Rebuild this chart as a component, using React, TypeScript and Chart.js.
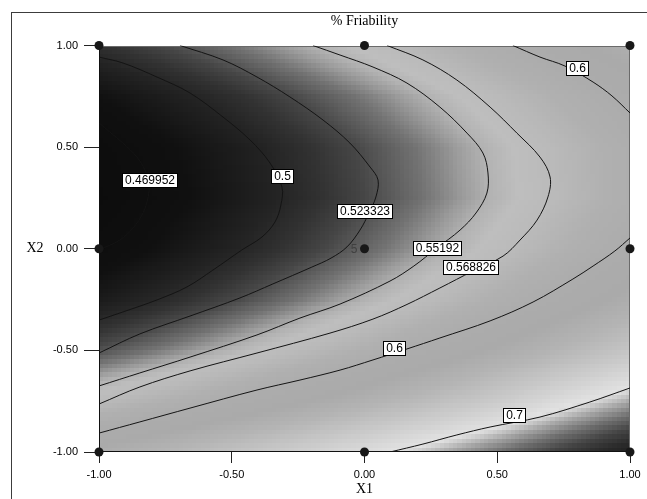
import React, { useEffect, useRef } from 'react';
import { Chart, registerables } from 'chart.js';

Chart.register(...registerables);

// ---------- axes ----------
const X1_TICKS = [-1, -0.5, 0, 0.5, 1];
const X1_TICK_LABELS = ['-1.00', '-0.50', '0.00', '0.50', '1.00'];
const X2_TICKS = [-1, -0.5, 0, 0.5, 1];
const X2_TICK_LABELS = ['-1.00', '-0.50', '0.00', '0.50', '1.00'];
const TITLE = '% Friability';
const X1_TITLE = 'X1';
const X2_TITLE = 'X2';

// ---------- response surface grid (% friability), read from the shading/contours ----------
const GRID_X1 = [-1, -0.75, -0.5, -0.25, 0, 0.25, 0.5, 0.75, 1];
const GRID_X2 = [1, 0.75, 0.5, 0.25, 0, -0.25, -0.5, -0.75, -1];
const F_X2_P100 = [0.509, 0.5215, 0.5348, 0.549, 0.5638, 0.5794, 0.5959, 0.6131, 0.631];
const F_X2_P075 = [0.4807, 0.4936, 0.5072, 0.5217, 0.5369, 0.5529, 0.5697, 0.5872, 0.6055];
const F_X2_P050 = [0.4648, 0.478, 0.4921, 0.5069, 0.5224, 0.5387, 0.5558, 0.5738, 0.5924];
const F_X2_P025 = [0.4611, 0.4746, 0.489, 0.5041, 0.52, 0.5367, 0.5541, 0.5724, 0.5913];
const F_X2_000 = [0.4697, 0.4836, 0.4983, 0.5138, 0.53, 0.547, 0.5648, 0.5834, 0.6027];
const F_X2_M025 = [0.4905, 0.5048, 0.5198, 0.5357, 0.5522, 0.5695, 0.5877, 0.6066, 0.6263];
const F_X2_M050 = [0.5236, 0.5382, 0.5535, 0.5697, 0.5866, 0.6043, 0.6228, 0.642, 0.662];
const F_X2_M075 = [0.5689, 0.5838, 0.5996, 0.6161, 0.6333, 0.6513, 0.6701, 0.6925, 0.714];
const F_X2_M100 = [0.6265, 0.6418, 0.6579, 0.6747, 0.6923, 0.7107, 0.7298, 0.7498, 0.7705];

// ---------- design points ----------
const DESIGN_X1 = [-1, 0, 1, -1, 0, 1, -1, 0, 1];
const DESIGN_X2 = [1, 1, 1, 0, 0, 0, -1, -1, -1];
const CENTER_REPLICATES = '5';

// ---------- contour lines ----------
const C_0469952_X1 = [-1.0, -0.959, -0.91, -0.857, -0.827, -0.812, -0.815, -0.834, -0.872, -0.921, -1.0];
const C_0469952_X2 = [0.619, 0.574, 0.52, 0.451, 0.387, 0.323, 0.255, 0.176, 0.102, 0.043, -0.006];

const C_05_X1 = [-1.0, -0.91, -0.782, -0.657, -0.533, -0.431, -0.356, -0.311, -0.315, -0.337, -0.386, -0.462, -0.571, -0.669, -0.782, -0.91, -1.0];
const C_05_X2 = [0.943, 0.914, 0.845, 0.766, 0.648, 0.535, 0.422, 0.304, 0.215, 0.132, 0.058, -0.006, -0.105, -0.188, -0.252, -0.311, -0.351];

const C_0523323_X1 = [-0.695, -0.533, -0.405, -0.281, -0.156, -0.055, 0.021, 0.051, 0.043, 0.017, -0.017, -0.066, -0.126, -0.198, -0.345, -0.469, -0.657, -0.846, -1.0];
const C_0523323_X2 = [1.0, 0.929, 0.845, 0.747, 0.633, 0.52, 0.402, 0.338, 0.255, 0.176, 0.092, 0.009, -0.046, -0.09, -0.173, -0.242, -0.331, -0.419, -0.513];

const C_055192_X1 = [-0.194, -0.092, 0.032, 0.16, 0.284, 0.386, 0.446, 0.465, 0.461, 0.42, 0.36, 0.273, 0.186, 0.096, -0.092, -0.243, -0.405, -0.657, -0.846, -1.0];
const C_055192_X2 = [1.0, 0.953, 0.894, 0.815, 0.697, 0.569, 0.471, 0.373, 0.274, 0.176, 0.092, 0.004, -0.085, -0.159, -0.272, -0.341, -0.424, -0.533, -0.611, -0.675];

const C_0568826_X1 = [0.085, 0.22, 0.348, 0.473, 0.574, 0.661, 0.699, 0.691, 0.65, 0.586, 0.522, 0.409, 0.284, 0.16, 0.032, -0.13, -0.405, -0.657, -0.846, -1.0];
const C_0568826_X2 = [1.0, 0.929, 0.83, 0.697, 0.569, 0.451, 0.353, 0.255, 0.141, 0.043, -0.036, -0.109, -0.193, -0.274, -0.346, -0.415, -0.513, -0.601, -0.68, -0.764];

const C_06_UPPER_X1 = [0.559, 0.661, 0.755, 0.861, 0.932, 1.0];
const C_06_UPPER_X2 = [1.0, 0.943, 0.899, 0.82, 0.752, 0.668];

const C_06_LOWER_X1 = [1.0, 0.943, 0.861, 0.785, 0.635, 0.473, 0.284, 0.16, 0.032, -0.092, -0.243, -0.405, -0.657, -0.846, -1.0];
const C_06_LOWER_X2 = [0.053, -0.011, -0.085, -0.149, -0.262, -0.355, -0.439, -0.493, -0.547, -0.597, -0.646, -0.695, -0.784, -0.852, -0.907];

const C_07_X1 = [1.0, 0.849, 0.661, 0.473, 0.348, 0.22, 0.096];
const C_07_X2 = [-0.685, -0.754, -0.828, -0.877, -0.916, -0.961, -1.0];

const CONTOUR_LABEL_TEXT = ['0.469952', '0.5', '0.523323', '0.55192', '0.568826', '0.6', '0.6', '0.7'];
const CONTOUR_LABEL_X1 = [-0.81, -0.309, -0.001, 0.274, 0.398, 0.799, 0.112, 0.563];
const CONTOUR_LABEL_X2 = [0.336, 0.36, 0.184, 0.006, -0.091, 0.888, -0.488, -0.818];

// ---------- styling ----------
const GRAY_STOP_VALUE = [0.45, 0.48, 0.5, 0.51, 0.52, 0.535, 0.545, 0.552, 0.56, 0.57, 0.585, 0.6, 0.62, 0.64, 0.66, 0.68, 0.7, 0.705, 0.715, 0.73, 0.745, 0.76, 0.775];
const GRAY_STOP_LEVEL = [10, 16, 36, 50, 70, 115, 155, 178, 190, 186, 176, 172, 170, 180, 195, 210, 226, 208, 165, 110, 68, 42, 28];
const SANS = '"Liberation Sans", Arial, sans-serif';
const SERIF = '"Liberation Serif", "Times New Roman", serif';

const GRID = [F_X2_P100, F_X2_P075, F_X2_P050, F_X2_P025, F_X2_000, F_X2_M025, F_X2_M050, F_X2_M075, F_X2_M100];

function sampleGrid(u: number, v: number): number {
  const nx = GRID_X1.length;
  const ny = GRID_X2.length;
  const t = (u - GRID_X1[0]) / (GRID_X1[1] - GRID_X1[0]);
  const s = (GRID_X2[0] - v) / (GRID_X2[0] - GRID_X2[1]);
  const i = Math.min(Math.max(Math.floor(t), 0), nx - 2);
  const j = Math.min(Math.max(Math.floor(s), 0), ny - 2);
  const fx = Math.min(Math.max(t - i, 0), 1);
  const fy = Math.min(Math.max(s - j, 0), 1);
  const a = GRID[j][i] * (1 - fx) + GRID[j][i + 1] * fx;
  const b = GRID[j + 1][i] * (1 - fx) + GRID[j + 1][i + 1] * fx;
  return a * (1 - fy) + b * fy;
}

function grayFor(val: number): number {
  const n = GRAY_STOP_VALUE.length;
  if (val <= GRAY_STOP_VALUE[0]) return GRAY_STOP_LEVEL[0];
  if (val >= GRAY_STOP_VALUE[n - 1]) return GRAY_STOP_LEVEL[n - 1];
  for (let k = 0; k < n - 1; k++) {
    if (val <= GRAY_STOP_VALUE[k + 1]) {
      const f = (val - GRAY_STOP_VALUE[k]) / (GRAY_STOP_VALUE[k + 1] - GRAY_STOP_VALUE[k]);
      return Math.round(GRAY_STOP_LEVEL[k] + f * (GRAY_STOP_LEVEL[k + 1] - GRAY_STOP_LEVEL[k]));
    }
  }
  return GRAY_STOP_LEVEL[n - 1];
}

const toPts = (xs: number[], ys: number[]) => xs.map((x, i) => ({ x, y: ys[i] }));

const CONTOURS = [
  toPts(C_0469952_X1, C_0469952_X2),
  toPts(C_05_X1, C_05_X2),
  toPts(C_0523323_X1, C_0523323_X2),
  toPts(C_055192_X1, C_055192_X2),
  toPts(C_0568826_X1, C_0568826_X2),
  toPts(C_06_UPPER_X1, C_06_UPPER_X2),
  toPts(C_06_LOWER_X1, C_06_LOWER_X2),
  toPts(C_07_X1, C_07_X2),
];

const surfacePlugin = {
  id: 'surface',
  beforeDraw(chart: any) {
    const { ctx, scales } = chart;
    const xs = scales.x;
    const ys = scales.y;
    ctx.save();
    ctx.fillStyle = '#ffffff';
    ctx.fillRect(0, 0, chart.width, chart.height);
    // outer frame
    ctx.strokeStyle = '#3c3c3c';
    ctx.lineWidth = 1;
    ctx.strokeRect(11.5, 12.5, 800, 800);
    const NX = 120;
    const NY = 92;
    for (let j = 0; j < NY; j++) {
      const v0 = 1 - (2 * j) / NY;
      const v1 = 1 - (2 * (j + 1)) / NY;
      const py0 = Math.round(ys.getPixelForValue(v0));
      const py1 = Math.round(ys.getPixelForValue(v1));
      const vc = (v0 + v1) / 2;
      for (let i = 0; i < NX; i++) {
        const u0 = -1 + (2 * i) / NX;
        const u1 = -1 + (2 * (i + 1)) / NX;
        const px0 = Math.round(xs.getPixelForValue(u0));
        const px1 = Math.round(xs.getPixelForValue(u1));
        const g = grayFor(sampleGrid((u0 + u1) / 2, vc));
        ctx.fillStyle = `rgb(${g},${g},${g})`;
        ctx.fillRect(px0, py0, px1 - px0, py1 - py0);
      }
    }
    ctx.restore();
  },
  beforeDatasetsDraw(chart: any) {
    const { ctx, chartArea: a } = chart;
    ctx.save();
    ctx.lineWidth = 1;
    const l = Math.round(a.left) + 0.5;
    const r = Math.round(a.right) - 0.5;
    const t = Math.round(a.top) + 0.5;
    const b = Math.round(a.bottom) - 0.5;
    ctx.strokeStyle = '#6a6a6a';
    ctx.beginPath();
    ctx.moveTo(l, t);
    ctx.lineTo(r, t);
    ctx.lineTo(r, b);
    ctx.stroke();
    ctx.strokeStyle = '#111111';
    ctx.beginPath();
    ctx.moveTo(l, t);
    ctx.lineTo(l, b);
    ctx.lineTo(r, b);
    ctx.stroke();
    ctx.restore();
  },
  afterDatasetsDraw(chart: any) {
    const { ctx, scales, chartArea: a } = chart;
    const xs = scales.x;
    const ys = scales.y;
    ctx.save();
    // contour labels
    ctx.font = `12px ${SANS}`;
    ctx.textAlign = 'center';
    ctx.textBaseline = 'middle';
    CONTOUR_LABEL_TEXT.forEach((txt, k) => {
      const cx = xs.getPixelForValue(CONTOUR_LABEL_X1[k]);
      const cy = ys.getPixelForValue(CONTOUR_LABEL_X2[k]);
      const w = Math.round(ctx.measureText(txt).width + 5);
      const h = 14;
      const x0 = Math.round(cx - w / 2) + 0.5;
      const y0 = Math.round(cy - h / 2) + 0.5;
      ctx.fillStyle = '#ffffff';
      ctx.fillRect(x0, y0, w, h);
      ctx.strokeStyle = '#000000';
      ctx.lineWidth = 1;
      ctx.strokeRect(x0, y0, w, h);
      ctx.fillStyle = '#000000';
      ctx.fillText(txt, x0 + w / 2, y0 + h / 2 + 0.5);
    });
    // center replicate count
    ctx.font = `12px ${SANS}`;
    ctx.fillStyle = '#404040';
    ctx.textAlign = 'right';
    ctx.fillText(CENTER_REPLICATES, xs.getPixelForValue(0) - 7, ys.getPixelForValue(0) + 0.5);
    // titles
    ctx.fillStyle = '#000000';
    ctx.textAlign = 'center';
    ctx.font = `14px ${SERIF}`;
    ctx.fillText(TITLE, (a.left + a.right) / 2, 21);
    ctx.fillText(X2_TITLE, 35, ys.getPixelForValue(0));
    ctx.restore();
  },
};

export default function App() {
  const ref = useRef<HTMLCanvasElement | null>(null);
  useEffect(() => {
    const canvas = ref.current;
    if (!canvas) return;
    const datasets: any[] = [
      {
        data: toPts(DESIGN_X1, DESIGN_X2),
        showLine: false,
        pointRadius: 4.5,
        pointHoverRadius: 4.5,
        pointBackgroundColor: '#181818',
        pointBorderColor: '#181818',
        pointBorderWidth: 0,
        clip: false,
      },
      ...CONTOURS.map((pts) => ({
        data: pts,
        showLine: true,
        pointRadius: 0,
        borderColor: '#141414',
        borderWidth: 1,
        tension: 0.35,
        fill: false,
      })),
    ];
    const chart = new Chart(canvas, {
      type: 'scatter',
      data: { datasets },
      plugins: [surfacePlugin],
      options: {
        animation: false,
        responsive: false,
        devicePixelRatio: 1,
        events: [],
        layout: { padding: { top: 45.5, right: 17, left: 0, bottom: 0 } },
        plugins: { legend: { display: false }, tooltip: { enabled: false }, title: { display: false } },
        scales: {
          x: {
            type: 'linear',
            position: 'bottom',
            min: -1,
            max: 1,
            afterBuildTicks: (s: any) => {
              s.ticks = X1_TICKS.map((v) => ({ value: v }));
            },
            afterFit: (s: any) => {
              s.height = 47;
            },
            ticks: {
              callback: (_v: any, i: number) => X1_TICK_LABELS[i],
              font: { family: SANS, size: 11 },
              color: '#000000',
              padding: 5,
              maxRotation: 0,
              autoSkip: false,
            },
            grid: { drawOnChartArea: false, drawTicks: true, tickLength: 11, color: '#222222', lineWidth: 1 },
            border: { display: false },
            title: {
              display: true,
              text: X1_TITLE,
              font: { family: SERIF, size: 14 },
              color: '#000000',
              padding: { top: 0, bottom: 1 },
            },
          },
          y: {
            type: 'linear',
            position: 'left',
            min: -1,
            max: 1,
            afterBuildTicks: (s: any) => {
              s.ticks = X2_TICKS.map((v) => ({ value: v }));
            },
            afterFit: (s: any) => {
              s.width = 99;
            },
            ticks: {
              callback: (_v: any, i: number) => X2_TICK_LABELS[i],
              font: { family: SANS, size: 11 },
              color: '#000000',
              padding: 6,
              autoSkip: false,
            },
            grid: { drawOnChartArea: false, drawTicks: true, tickLength: 15, color: '#222222', lineWidth: 1 },
            border: { display: false },
            title: { display: false },
          },
        },
      } as any,
    });
    return () => chart.destroy();
  }, []);
  return (
    <div style={{ position: 'absolute', left: 0, top: 0, width: 647, height: 499 }}>
      <canvas ref={ref} width={647} height={499} style={{ display: 'block', width: 647, height: 499 }} />
    </div>
  );
}
